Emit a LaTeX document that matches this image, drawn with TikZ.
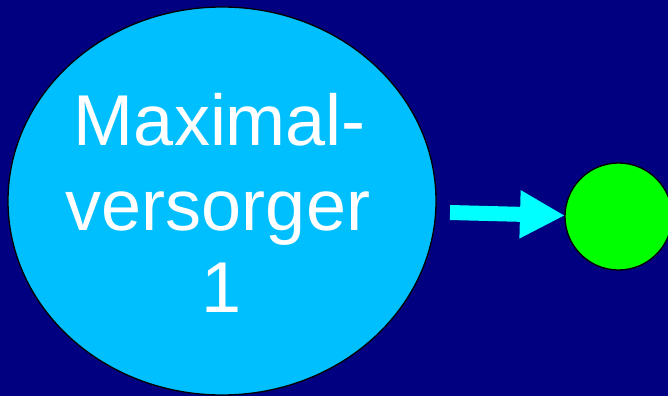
\documentclass[tikz,border=0pt]{standalone}
\usepackage{fontspec}
\setmainfont{Liberation Sans}
\usetikzlibrary{shapes.geometric,arrows.meta}
\definecolor{bgnavy}{RGB}{0,0,128}
\definecolor{skyfill}{RGB}{0,191,255}
\definecolor{greenfill}{RGB}{0,255,0}
\definecolor{arrowcyan}{RGB}{0,255,255}
\tikzset{
  bigoval/.style={ellipse, draw=black, line width=1.3pt, fill=skyfill, inner sep=0pt,
    minimum width=428pt, minimum height=388pt},
  smalldot/.style={circle, draw=black, line width=1.3pt, fill=greenfill, inner sep=0pt,
    minimum size=107pt},
  label/.style={anchor=base, text=white, inner sep=0pt, font=\fontsize{72pt}{84pt}\selectfont},
  fatarrow/.style={draw=arrowcyan, line width=15pt, -{Triangle[length=45pt,width=45pt]}}
}
\begin{document}
\begin{tikzpicture}[x=1pt,y=-1pt]
\useasboundingbox (0,0) rectangle (668,396);
\clip (0,0) rectangle (668,396);
\fill[bgnavy] (0,0) rectangle (668,396);
\node[bigoval] (oval) at (222,201) {};
\node[label] (l1) at (220,145) {Maximal-};
\node[label] (l2) at (218,230) {versorger};
\node[label] (l3) at (222,312) {1};
\node[smalldot] (dot) at (618.5,216.5) {};
\coordinate (as) at (450,212.5);
\coordinate (ae) at (565,215.5);
\draw[fatarrow] (as) -- (ae);
\end{tikzpicture}
\end{document}
